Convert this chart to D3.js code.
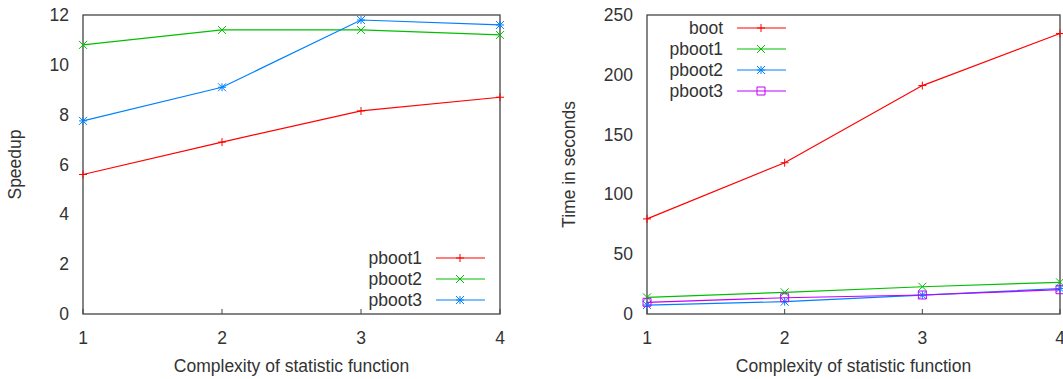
<!DOCTYPE html>
<html>
<head>
<meta charset="utf-8">
<script src="https://cdn.jsdelivr.net/npm/d3@7"></script>
<style>
  body { margin: 0; background: #fff; }
  svg text { font-family: "Liberation Sans", Arial, sans-serif; fill: #333; }
</style>
</head>
<body>
<div id="chart"></div>
<script>
const complexity = [1, 2, 3, 4];

// left panel: speedup
const speedupNames = ["pboot1", "pboot2", "pboot3"];
const speedupPboot1 = [5.6, 6.9, 8.15, 8.7];
const speedupPboot2 = [10.8, 11.4, 11.4, 11.2];
const speedupPboot3 = [7.75, 9.1, 11.8, 11.6];
const speedupTicks = [0, 2, 4, 6, 8, 10, 12];

// right panel: time in seconds
const timeNames = ["boot", "pboot1", "pboot2", "pboot3"];
const timeBoot = [79.5, 126.5, 191, 234.5];
const timePboot1 = [13.9, 18.1, 22.8, 26.5];
const timePboot2 = [7.5, 10.3, 15.8, 21.3];
const timePboot3 = [9.8, 13.6, 15.9, 20.3];
const timeTicks = [0, 50, 100, 150, 200, 250];

const colors = { red: "#ff0000", green: "#00c000", blue: "#0080ff", purple: "#c000ff" };
const fs = "17.5px";

const svg = d3.select("#chart")
  .append("svg")
  .attr("width", 1063)
  .attr("height", 379);

function marker(g, type, cx, cy, color) {
  const s = 4;
  const p = d3.path();
  if (type === "plus" || type === "star") {
    p.moveTo(cx - s, cy); p.lineTo(cx + s, cy);
    p.moveTo(cx, cy - s); p.lineTo(cx, cy + s);
  }
  if (type === "cross" || type === "star") {
    p.moveTo(cx - s, cy - s); p.lineTo(cx + s, cy + s);
    p.moveTo(cx - s, cy + s); p.lineTo(cx + s, cy - s);
  }
  if (type === "square") {
    p.rect(cx - s, cy - s, 2 * s, 2 * s);
  }
  g.append("path").attr("d", p.toString())
    .attr("fill", "none").attr("stroke", color).attr("stroke-width", 1);
}

function panel(opts) {
  const { left, right, top, bottom, yMax, yTicks, series, yTitle, titleX, legend } = opts;
  const g = svg.append("g");

  const x = d3.scaleLinear().domain([1, 4]).range([left, right]);
  const y = d3.scaleLinear().domain([0, yMax]).range([bottom, top]);

  // frame
  g.append("rect")
    .attr("x", left).attr("y", top)
    .attr("width", right - left).attr("height", bottom - top)
    .attr("fill", "none").attr("stroke", "#444").attr("stroke-width", 1.3);

  // x ticks (inward)
  complexity.forEach(v => {
    g.append("line")
      .attr("x1", x(v)).attr("x2", x(v))
      .attr("y1", bottom).attr("y2", bottom - 5)
      .attr("stroke", "#444");
    g.append("text")
      .attr("x", x(v)).attr("y", bottom + 30)
      .attr("text-anchor", "middle").attr("font-size", fs)
      .text(v);
  });

  yTicks.forEach(v => {
    g.append("text")
      .attr("x", left - 14).attr("y", y(v) + 6)
      .attr("text-anchor", "end").attr("font-size", fs)
      .text(v);
  });

  const line = d3.line().x((d, i) => x(complexity[i])).y(d => y(d));

  series.forEach(s => {
    g.append("path")
      .attr("d", line(s.values))
      .attr("fill", "none").attr("stroke", s.color).attr("stroke-width", 1.2);
    s.values.forEach((d, i) => marker(g, s.marker, x(complexity[i]), y(d), s.color));
  });

  // legend
  series.forEach((s, i) => {
    const ly = legend.y + i * 21;
    g.append("text")
      .attr("x", legend.textX).attr("y", ly + 6)
      .attr("text-anchor", "end").attr("font-size", fs)
      .text(s.name);
    g.append("line")
      .attr("x1", legend.lineX).attr("x2", legend.lineX + 49)
      .attr("y1", ly).attr("y2", ly)
      .attr("stroke", s.color).attr("stroke-width", 1.2);
    marker(g, s.marker, legend.lineX + 24, ly, s.color);
  });

  // axis titles
  g.append("text")
    .attr("x", (left + right) / 2).attr("y", bottom + 58)
    .attr("text-anchor", "middle").attr("font-size", fs)
    .text("Complexity of statistic function");

  g.append("text")
    .attr("transform", `translate(${titleX},${(top + bottom) / 2}) rotate(-90)`)
    .attr("text-anchor", "middle").attr("font-size", fs)
    .text(yTitle);
}

panel({
  left: 83, right: 500, top: 15, bottom: 314,
  yMax: 12, yTicks: speedupTicks, yTitle: "Speedup", titleX: 21,
  series: [
    { name: speedupNames[0], values: speedupPboot1, color: colors.red, marker: "plus" },
    { name: speedupNames[1], values: speedupPboot2, color: colors.green, marker: "cross" },
    { name: speedupNames[2], values: speedupPboot3, color: colors.blue, marker: "star" }
  ],
  legend: { textX: 422, lineX: 436, y: 258 }
});

panel({
  left: 647, right: 1060, top: 15, bottom: 314,
  yMax: 250, yTicks: timeTicks, yTitle: "Time in seconds", titleX: 575,
  series: [
    { name: timeNames[0], values: timeBoot, color: colors.red, marker: "plus" },
    { name: timeNames[1], values: timePboot1, color: colors.green, marker: "cross" },
    { name: timeNames[2], values: timePboot2, color: colors.blue, marker: "star" },
    { name: timeNames[3], values: timePboot3, color: colors.purple, marker: "square" }
  ],
  legend: { textX: 723, lineX: 737, y: 28 }
});
</script>
</body>
</html>
